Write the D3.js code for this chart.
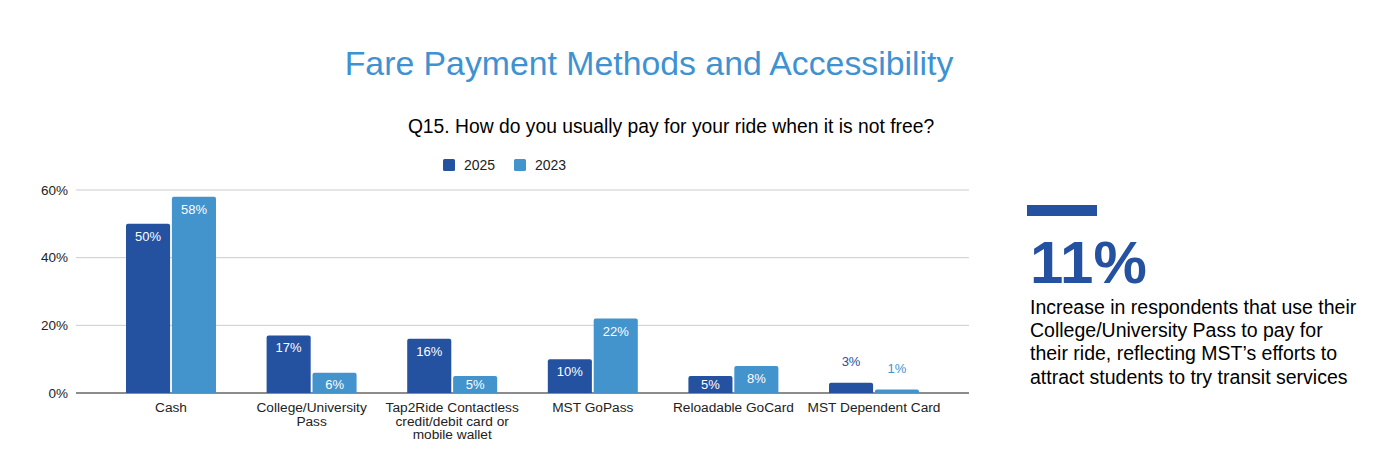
<!DOCTYPE html>
<html>
<head>
<meta charset="utf-8">
<script src="https://cdn.jsdelivr.net/npm/d3@7"></script>
<style>
  html, body { margin: 0; padding: 0; background: #ffffff; }
  svg { display: block; font-family: "Liberation Sans", Arial, sans-serif; }
</style>
</head>
<body>
<svg id="chart" width="1394" height="456"></svg>
<script>
const categories = [
  ["Cash"],
  ["College/University", "Pass"],
  ["Tap2Ride Contactless", "credit/debit card or", "mobile wallet"],
  ["MST GoPass"],
  ["Reloadable GoCard"],
  ["MST Dependent Card"]
];
const seriesNames = ["2025", "2023"];
const values2025 = [50, 17, 16, 10, 5, 3];
const values2023 = [58, 6, 5, 22, 8, 1];
const yTicks = [0, 20, 40, 60];
const titleText = "Fare Payment Methods and Accessibility";
const subtitleText = "Q15. How do you usually pay for your ride when it is not free?";
const calloutValue = "11%";
const calloutLines = [
  "Increase in respondents that use their",
  "College/University Pass to pay for",
  "their ride, reflecting MST\u2019s efforts to",
  "attract students to try transit services"
];

const colors = { "2025": "#2451a0", "2023": "#4393cc" };
const svg = d3.select("#chart");

const plot = { left: 76, right: 969, top: 190, bottom: 393 };

const x = d3.scaleBand().domain(d3.range(categories.length)).range([100.7, 944.3])
  .paddingInner(0.36).paddingOuter(0.18);
const x1 = d3.scaleBand().domain(seriesNames).range([0, x.bandwidth()]).paddingInner(0.04);
const y = d3.scaleLinear().domain([0, 60]).range([plot.bottom, plot.top]);

// title
svg.append("text").attr("x", 649).attr("y", 75).attr("text-anchor", "middle")
  .attr("font-size", 33.8).attr("fill", "#3f92d2").text(titleText);
svg.append("text").attr("x", 671).attr("y", 133).attr("text-anchor", "middle")
  .attr("font-size", 19.3).attr("fill", "#000").text(subtitleText);

// legend
const legend = svg.append("g");
const legendX = [443, 514];
seriesNames.forEach((s, i) => {
  legend.append("rect").attr("x", legendX[i]).attr("y", 159).attr("width", 12).attr("height", 12)
    .attr("rx", 1.5).attr("fill", colors[s]);
  legend.append("text").attr("x", legendX[i] + 21).attr("y", 170).attr("font-size", 14)
    .attr("fill", "#222").text(s);
});

// grid
const grid = svg.append("g");
yTicks.forEach(t => {
  grid.append("line").attr("x1", plot.left).attr("x2", plot.right)
    .attr("y1", y(t)).attr("y2", y(t))
    .attr("stroke", t === 0 ? "#666" : "#cccccc").attr("stroke-width", t === 0 ? 1.3 : 1);
});

// y axis
const yAxis = d3.axisLeft(y).tickValues(yTicks).tickFormat(d => d + "%").tickSize(0).tickPadding(8);
const ya = svg.append("g").attr("transform", `translate(${plot.left},0)`).call(yAxis);
ya.select(".domain").remove();
ya.selectAll("text").attr("font-size", 13.5).attr("fill", "#222").attr("font-family", "Liberation Sans, Arial, sans-serif");

// bars
function topRoundedPath(x0, y0, w, h, r) {
  r = Math.min(r, h, w / 2);
  return `M${x0},${y0 + h}V${y0 + r}Q${x0},${y0} ${x0 + r},${y0}H${x0 + w - r}Q${x0 + w},${y0} ${x0 + w},${y0 + r}V${y0 + h}Z`;
}
const data = categories.map((c, i) => ({ i, vals: [values2025[i], values2023[i]] }));
const groups = svg.append("g").selectAll("g").data(data).join("g")
  .attr("transform", d => `translate(${x(d.i)},0)`);
groups.each(function(d) {
  const g = d3.select(this);
  seriesNames.forEach((s, k) => {
    const v = d.vals[k];
    const bx = x1(s), bw = x1.bandwidth();
    const by = y(v), bh = y(0) - y(v);
    g.append("path").attr("d", topRoundedPath(bx, by, bw, bh, 2)).attr("fill", colors[s]);
    const inside = bh > 14;
    g.append("text").attr("x", bx + bw / 2)
      .attr("y", inside ? Math.min(by + 17, y(0) - 4) : by - 17)
      .attr("text-anchor", "middle").attr("font-size", 13)
      .attr("fill", inside ? "#ffffff" : colors[s]).text(v + "%");
  });
});

// x labels
const xl = svg.append("g");
categories.forEach((lines, i) => {
  const cx = x(i) + x.bandwidth() / 2;
  lines.forEach((ln, j) => {
    xl.append("text").attr("x", cx).attr("y", 412 + j * 13.5).attr("text-anchor", "middle")
      .attr("font-size", 13.7).attr("fill", "#222").text(ln);
  });
});

// callout
svg.append("rect").attr("x", 1027).attr("y", 205).attr("width", 70).attr("height", 11).attr("fill", "#2451a0");
svg.append("text").attr("x", 1030).attr("y", 283).attr("font-size", 60).attr("font-weight", "bold")
  .attr("fill", "#2451a0").text(calloutValue);
calloutLines.forEach((ln, j) => {
  svg.append("text").attr("x", 1030).attr("y", 314 + j * 23.2).attr("font-size", 19.5).attr("fill", "#000").text(ln);
});
</script>
</body>
</html>
